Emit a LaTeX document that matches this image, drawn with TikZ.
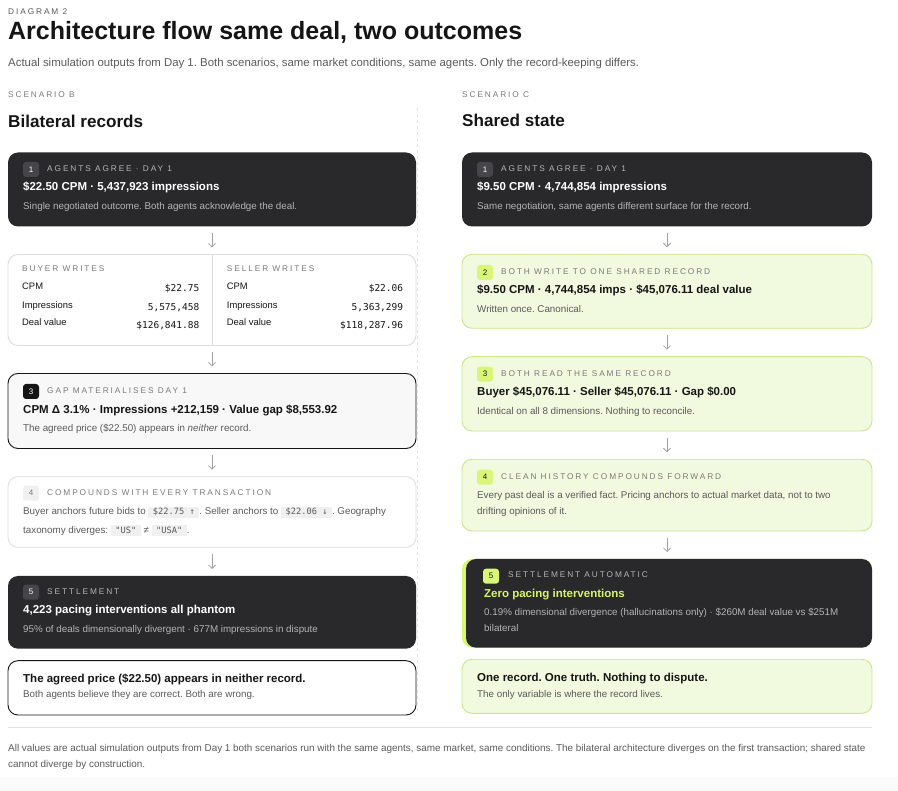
\documentclass[tikz,border=0pt]{standalone}
\usepackage{fontspec}
\setmainfont{Liberation Sans}
\setmonofont{DejaVu Sans Mono}
\newfontfamily\spacedfont[LetterSpace=23]{Liberation Sans}
\usetikzlibrary{arrows.meta}
\frenchspacing

\definecolor{ink}{HTML}{151515}
\definecolor{panel}{HTML}{29292B}
\definecolor{panelbadge}{HTML}{46464A}
\definecolor{softtext}{HTML}{B4B4B6}
\definecolor{greytext}{HTML}{5A5A5A}
\definecolor{kickgrey}{HTML}{7A7A7A}
\definecolor{rule}{HTML}{DCDCDC}
\definecolor{paper}{HTML}{F8F8F8}
\definecolor{chip}{HTML}{F0F0F0}
\definecolor{mint}{HTML}{F1F9DE}
\definecolor{mintedge}{HTML}{CBE78A}
\definecolor{lime}{HTML}{D8F77A}
\definecolor{limetext}{HTML}{D6F56C}
\definecolor{arrowgray}{HTML}{A0A0A4}
\definecolor{footbg}{HTML}{FAFAFA}

\newcommand\codechip[1]{{\setlength{\fboxsep}{0pt}\colorbox{chip}{\rule[-2.6pt]{0pt}{10.6pt}\hspace{4.5pt}\ttfamily\fontsize{8.7}{10}\selectfont #1\hspace{4.5pt}}}}

\tikzset{
  box/.style={rounded corners=10pt, anchor=north west, inner sep=0pt, outer sep=0pt},
  darkbox/.style={box, fill=panel},
  plainbox/.style={box, fill=white, draw=rule, line width=0.8pt},
  strongbox/.style={box, draw=ink, line width=0.9pt},
  greenbox/.style={box, fill=mint, draw=mintedge, line width=0.9pt},
  badge/.style={rounded corners=3pt, minimum width=16pt, minimum height=15pt, inner sep=0pt, font=\fontsize{8}{8}\selectfont},
  kicker/.style={anchor=base west, inner sep=0pt, text=kickgrey, font=\spacedfont\fontsize{8.3}{10}\selectfont},
  headline/.style={anchor=base west, inner sep=0pt, text=ink, font=\bfseries\fontsize{11.5}{14}\selectfont},
  note/.style={anchor=base west, inner sep=0pt, text=greytext, font=\fontsize{9.8}{12}\selectfont},
  cell/.style={anchor=base west, inner sep=0pt, text=ink, font=\fontsize{9.4}{12}\selectfont},
  amount/.style={anchor=base east, inner sep=0pt, text=ink, font=\ttfamily\fontsize{9.5}{12}\selectfont},
  flow/.style={draw=arrowgray, line width=0.8pt, -{Straight Barb[length=3.5pt,width=7pt]}, shorten <=7pt, shorten >=7pt},
}

\begin{document}
\begin{tikzpicture}[x=1pt,y=-1pt]
  \fill[white] (0,0) rectangle (898,791);
  \fill[footbg] (0,777) rectangle (898,791);
  \useasboundingbox (0,0) rectangle (898,791);

  % header
  \node[kicker, text=greytext] (tag) at (8,14.7) {DIAGRAM 2};
  \node[anchor=base west, inner sep=0pt, text=ink, font=\bfseries\fontsize{25}{30}\selectfont] (title) at (8,40) {Architecture flow same deal, two outcomes};
  \node[anchor=base west, inner sep=0pt, text=greytext, font=\fontsize{11.4}{13}\selectfont] (sub) at (8,67) {Actual simulation outputs from Day 1. Both scenarios, same market conditions, same agents. Only the record-keeping differs.};
  \node[kicker] (sb) at (8,98) {SCENARIO B};
  \node[kicker] (sc) at (462,97.7) {SCENARIO C};
  \node[headline, font=\bfseries\fontsize{17.1}{20}\selectfont] (hb) at (8,127.7) {Bilateral records};
  \node[headline, font=\bfseries\fontsize{17.1}{20}\selectfont] (hc) at (462,126.7) {Shared state};
  \draw[rule!85!black!40, line width=0.7pt, dash pattern=on 3pt off 3pt] (417.5,108) -- (417.5,714);

  % scenario B
  \node[darkbox, minimum width=408pt, minimum height=74pt] (b1) at (8,152.5) {};
  \node[badge, fill=panelbadge, text=white] (b1n) at (31,169.5) {1};
  \node[kicker, text=softtext] at (47,172) {AGENTS AGREE · DAY 1};
  \node[headline, text=white] at (23,191) {\$22.50 CPM · 5,437,923 impressions};
  \node[note, text=softtext] at (23,209.5) {Single negotiated outcome. Both agents acknowledge the deal.};

  \node[plainbox, minimum width=408pt, minimum height=91pt] (b2) at (8,254.5) {};
  \draw[rule, line width=0.8pt] (b2.north) -- (b2.south);
  \node[kicker] at (22,272) {BUYER WRITES};
  \node[cell] at (22,289.3) {CPM};
  \node[cell] at (22,308.3) {Impressions};
  \node[cell] at (22,326) {Deal value};
  \node[amount] at (199.5,292) {\$22.75};
  \node[amount] at (199.5,311) {5,575,458};
  \node[amount] at (199.5,329) {\$126,841.88};
  \node[kicker] at (226.7,272) {SELLER WRITES};
  \node[cell] at (226.7,289.3) {CPM};
  \node[cell] at (226.7,308.3) {Impressions};
  \node[cell] at (226.7,326) {Deal value};
  \node[amount] at (403.3,292) {\$22.06};
  \node[amount] at (403.3,311) {5,363,299};
  \node[amount] at (403.3,329) {\$118,287.96};

  \node[strongbox, fill=paper, minimum width=408pt, minimum height=75pt] (b3) at (8,373.5) {};
  \node[badge, fill=ink, text=white] (b3n) at (31,391.5) {3};
  \node[kicker] at (47,394) {GAP MATERIALISES DAY 1};
  \node[headline] at (23,413.3) {CPM Δ 3.1\% · Impressions +212,159 · Value gap \$8,553.92};
  \node[note] at (23,431.7) {The agreed price (\$22.50) appears in \emph{neither} record.};

  \node[plainbox, minimum width=408pt, minimum height=70.6pt] (b4) at (8,476.7) {};
  \node[badge, fill=chip, text=kickgrey] (b4n) at (31,493.2) {4};
  \node[kicker] at (47,495.7) {COMPOUNDS WITH EVERY TRANSACTION};
  \node[note] at (23,515) {Buyer anchors future bids to \codechip{\$22.75 ↑}. Seller anchors to \codechip{\$22.06 ↓}. Geography};
  \node[note] at (23,533.3) {taxonomy diverges: \codechip{"US"} ≠ \codechip{"USA"}.};

  \node[darkbox, minimum width=408pt, minimum height=72.7pt] (b5) at (8,576) {};
  \node[badge, fill=panelbadge, text=white] (b5n) at (31,592.2) {5};
  \node[kicker, text=softtext] at (47,594.7) {SETTLEMENT};
  \node[headline, text=white] at (23,614) {4,223 pacing interventions all phantom};
  \node[note, text=softtext] at (23,632.7) {95\% of deals dimensionally divergent · 677M impressions in dispute};

  \node[strongbox, fill=white, minimum width=408pt, minimum height=54.3pt] (b6) at (8,660.7) {};
  \node[headline] at (23,682.3) {The agreed price (\$22.50) appears in neither record.};
  \node[note] at (23,697.3) {Both agents believe they are correct. Both are wrong.};

  \draw[flow] (b1.south) -- (b2.north);
  \draw[flow] (b2.south) -- (b3.north);
  \draw[flow] (b3.south) -- (b4.north);
  \draw[flow] (b4.south) -- (b5.north);

  % scenario C
  \node[darkbox, minimum width=410pt, minimum height=74pt] (c1) at (462,152.5) {};
  \node[badge, fill=panelbadge, text=white] (c1n) at (485,169.5) {1};
  \node[kicker, text=softtext] at (501,172) {AGENTS AGREE · DAY 1};
  \node[headline, text=white] at (477,191) {\$9.50 CPM · 4,744,854 impressions};
  \node[note, text=softtext] at (477,210) {Same negotiation, same agents different surface for the record.};

  \node[greenbox, minimum width=410pt, minimum height=74pt] (c2) at (462,254.3) {};
  \node[badge, fill=lime, text=ink] (c2n) at (485,272.5) {2};
  \node[kicker] at (501,275) {BOTH WRITE TO ONE SHARED RECORD};
  \node[headline] at (477,294) {\$9.50 CPM · 4,744,854 imps · \$45,076.11 deal value};
  \node[note] at (477,312.7) {Written once. Canonical.};

  \node[greenbox, minimum width=410pt, minimum height=74.3pt] (c3) at (462,356.7) {};
  \node[badge, fill=lime, text=ink] (c3n) at (485,374.2) {3};
  \node[kicker] at (501,376.7) {BOTH READ THE SAME RECORD};
  \node[headline] at (477,395.7) {Buyer \$45,076.11 · Seller \$45,076.11 · Gap \$0.00};
  \node[note] at (477,414.3) {Identical on all 8 dimensions. Nothing to reconcile.};

  \node[greenbox, minimum width=410pt, minimum height=71.7pt] (c4) at (462,459.3) {};
  \node[badge, fill=lime, text=ink] (c4n) at (485,477.2) {4};
  \node[kicker] at (501,479.7) {CLEAN HISTORY COMPOUNDS FORWARD};
  \node[note] at (477,498.3) {Every past deal is a verified fact. Pricing anchors to actual market data, not to two};
  \node[note] at (477,515) {drifting opinions of it.};

  \node[box, fill=lime, minimum width=410pt, minimum height=88.7pt] (c5g) at (462,559) {};
  \node[darkbox, minimum width=406pt, minimum height=88.7pt] (c5) at (466,559) {};
  \node[badge, fill=lime, text=ink] (c5n) at (491,576.2) {5};
  \node[kicker, text=softtext] at (508,577.7) {SETTLEMENT AUTOMATIC};
  \node[headline, text=limetext] at (484,597.7) {Zero pacing interventions};
  \node[note, text=softtext] at (484,616) {0.19\% dimensional divergence (hallucinations only) · \$260M deal value vs \$251M};
  \node[note, text=softtext] at (484,631.7) {bilateral};

  \node[greenbox, minimum width=410pt, minimum height=54pt] (c6) at (462,659.3) {};
  \node[headline] at (477,681.7) {One record. One truth. Nothing to dispute.};
  \node[note] at (477,697.3) {The only variable is where the record lives.};

  \draw[flow] (c1.south) -- (c2.north);
  \draw[flow] (c2.south) -- (c3.north);
  \draw[flow] (c3.south) -- (c4.north);
  \draw[flow] (c4.south) -- (c5g.north);

  % footer
  \draw[rule!80, line width=0.8pt] (8,727.3) -- (872,727.3);
  \node[note, font=\fontsize{9.9}{11}\selectfont] (foot1) at (8,751) {All values are actual simulation outputs from Day 1 both scenarios run with the same agents, same market, same conditions. The bilateral architecture diverges on the first transaction; shared state};
  \node[note, font=\fontsize{9.9}{11}\selectfont] (foot2) at (8,767.7) {cannot diverge by construction.};
\end{tikzpicture}
\end{document}
